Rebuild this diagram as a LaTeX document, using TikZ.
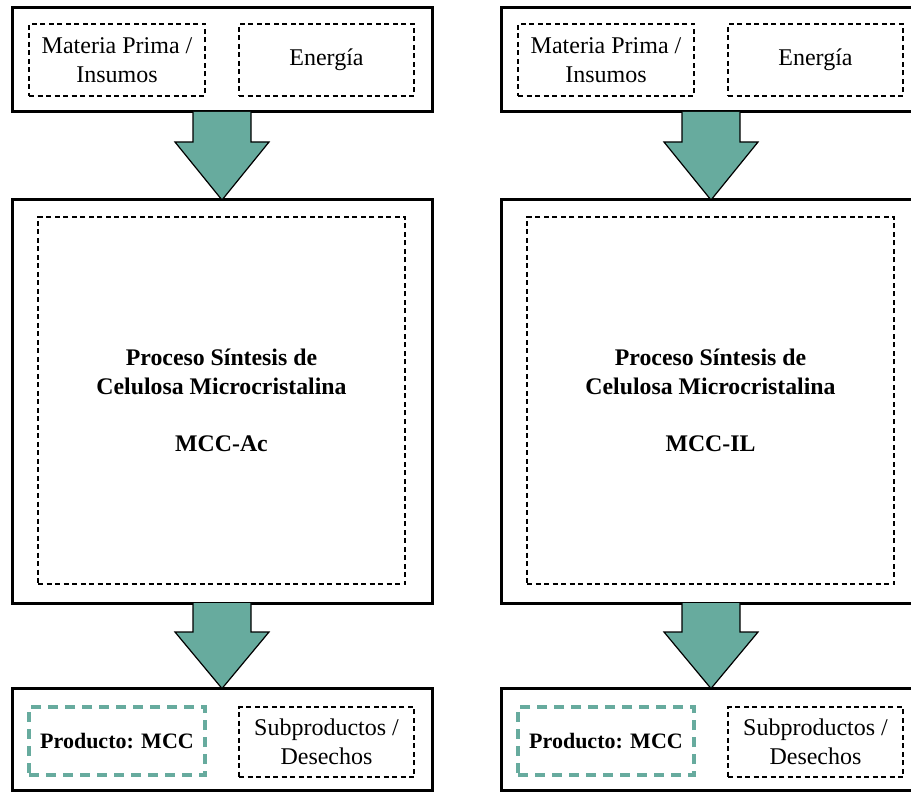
\documentclass[tikz,border=0pt]{standalone}
\usepackage{fontspec}
\setmainfont{Liberation Serif}
\usetikzlibrary{calc}
\definecolor{flowteal}{RGB}{103,171,158}
\tikzset{
  frame/.style={draw=black, line width=3pt, fill=white, inner sep=0pt, outer sep=0pt},
  item/.style={draw=black, line width=1.4pt, dash pattern=on 5pt off 3.5pt, inner sep=0pt, outer sep=0pt,
               align=center, font=\fontsize{24}{29}\selectfont},
  product/.style={draw=flowteal, line width=3.2pt, dash pattern=on 10pt off 7pt, inner sep=0pt, outer sep=0pt,
               align=center, font=\fontsize{22}{27}\selectfont\bfseries},
  core/.style={draw=black, line width=1.4pt, dash pattern=on 5pt off 3.5pt, inner sep=0pt, outer sep=0pt,
               align=center, font=\fontsize{23.8}{28.5}\selectfont\bfseries},
  flow/.style={fill=flowteal, draw=black, line width=1.2pt, line join=miter}
}
\begin{document}
\begin{tikzpicture}[x=1pt,y=-1pt]
\clip (0,0) rectangle (911,794);
\fill[white] (0,0) rectangle (911,794);
\foreach \dx/\tag/\lbl in {0/a/MCC-Ac, 489/b/MCC-IL}{
  % frames
  \node[frame, minimum width=420pt, minimum height=104pt] (in\tag) at (222+\dx,60) {};
  \node[frame, minimum width=420pt, minimum height=403pt] (mid\tag) at (222+\dx,401.5) {};
  \node[frame, minimum width=420pt, minimum height=102pt] (out\tag) at (222+\dx,739.5) {};
  % inputs
  \node[item, minimum width=176pt, minimum height=72pt] (raw\tag) at (117+\dx,60) {Materia Prima /\\Insumos};
  \node[item, minimum width=175pt, minimum height=72pt] (nrg\tag) at (326.5+\dx,60) {Energía};
  % process
  \node[core, minimum width=367pt, minimum height=367pt] (proc\tag) at (221.5+\dx,400.5)
    {Proceso Síntesis de\\Celulosa Microcristalina\\[28.5pt]\lbl};
  % outputs
  \node[product, minimum width=176pt, minimum height=68pt] (prod\tag) at (117+\dx,741) {Producto: MCC};
  \node[item, minimum width=175pt, minimum height=70pt] (waste\tag) at (326.5+\dx,742) {Subproductos /\\Desechos};
  % block arrows
  \draw[flow] ($(in\tag.south)+(-29,0)$) -- ($(in\tag.south)+(-29,30)$) -- ($(in\tag.south)+(-47,30)$)
    -- (mid\tag.north) -- ($(in\tag.south)+(47,30)$) -- ($(in\tag.south)+(29,30)$) -- ($(in\tag.south)+(29,0)$);
  \draw[flow] ($(mid\tag.south)+(-29,0)$) -- ($(mid\tag.south)+(-29,29)$) -- ($(mid\tag.south)+(-47,29)$)
    -- (out\tag.north) -- ($(mid\tag.south)+(47,29)$) -- ($(mid\tag.south)+(29,29)$) -- ($(mid\tag.south)+(29,0)$);
}
\end{tikzpicture}
\end{document}
